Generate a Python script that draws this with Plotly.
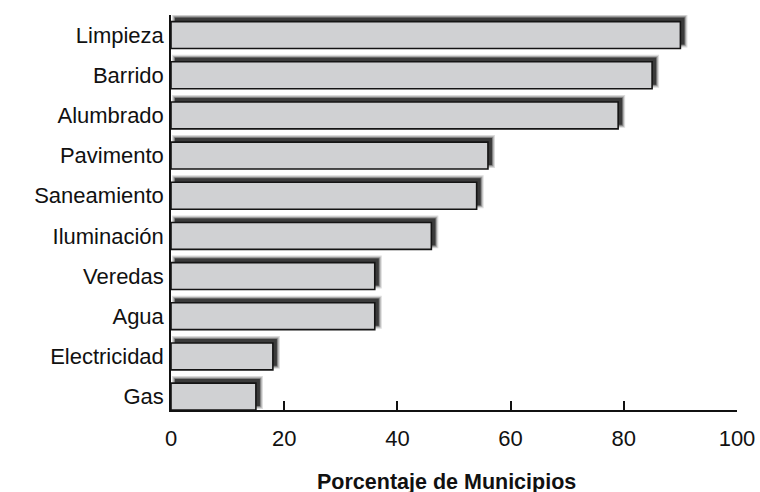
import plotly.graph_objects as go

# Services, listed top to bottom, with share of municipalities (%)
servicios = ["Limpieza", "Barrido", "Alumbrado", "Pavimento", "Saneamiento",
             "Iluminación", "Veredas", "Agua", "Electricidad", "Gas"]
porcentajes = [90, 85, 79, 56, 54, 46, 36, 36, 18, 15]
x_ticks = [0, 20, 40, 60, 80, 100]

W, H = 760, 492
M_L, M_R, M_T, M_B = 171, 23, 15, 82
X_MAX = 100
Y_LO, Y_HI = -0.335, len(servicios) - 0.5
BAR_W = 0.67

# pixel -> data conversion factors for the drop shadow
px_x = X_MAX / (W - M_L - M_R)
px_y = (Y_HI - Y_LO) / (H - M_T - M_B)

FONT = "Liberation Sans, Arial, Helvetica, sans-serif"

fig = go.Figure()

# soft drop shadow, offset right and up, built from stacked translucent bars
shift_x, shift_y = 4.0, 4.0
for grow, alpha in [(3.0, 0.14), (1.8, 0.22), (0.8, 0.32), (0.0, 0.5)]:
    fig.add_trace(go.Bar(
        y=servicios,
        x=[v + 2 * grow * px_x for v in porcentajes],
        base=(shift_x - grow) * px_x,
        orientation="h",
        width=BAR_W + 2 * grow * px_y,
        offset=-BAR_W / 2 + (shift_y - grow) * px_y,
        marker=dict(color=f"rgba(0,0,0,{alpha})", line=dict(width=0)),
        hoverinfo="skip",
        showlegend=False,
    ))

# main bars
fig.add_trace(go.Bar(
    y=servicios,
    x=porcentajes,
    orientation="h",
    width=BAR_W,
    offset=-BAR_W / 2,
    marker=dict(color="#d0d1d3", line=dict(color="#141414", width=1.6)),
    showlegend=False,
))

# axis title, centred a little left of the plot centre
fig.add_annotation(
    text="<b>Porcentaje de Municipios</b>",
    xref="paper", yref="paper",
    x=0.4876, y=0, yshift=-72,
    xanchor="center", yanchor="middle",
    showarrow=False,
    font=dict(family=FONT, size=21.5, color="#111111"),
)

fig.update_layout(
    width=W, height=H,
    margin=dict(l=M_L, r=M_R, t=M_T, b=M_B),
    paper_bgcolor="white", plot_bgcolor="white",
    barmode="overlay",
    font=dict(family=FONT, size=22, color="#111111"),
    xaxis=dict(
        range=[0, X_MAX],
        tickvals=x_ticks,
        ticktext=[str(t) for t in x_ticks],
        ticks="inside", ticklen=9, tickwidth=1.5, tickcolor="#111111",
        showline=True, linecolor="#111111", linewidth=2,
        showgrid=False, zeroline=False,
        tickfont=dict(size=22),
        ticklabelstandoff=8,
        automargin=False,
    ),
    yaxis=dict(
        type="category",
        categoryorder="array",
        categoryarray=servicios[::-1],
        range=[Y_LO, Y_HI],
        ticks="", showline=True, linecolor="#111111", linewidth=1.5,
        showgrid=False, zeroline=False,
        tickfont=dict(size=22),
        ticklabelstandoff=1,
        automargin=False,
    ),
)

fig.write_html("out.html")
